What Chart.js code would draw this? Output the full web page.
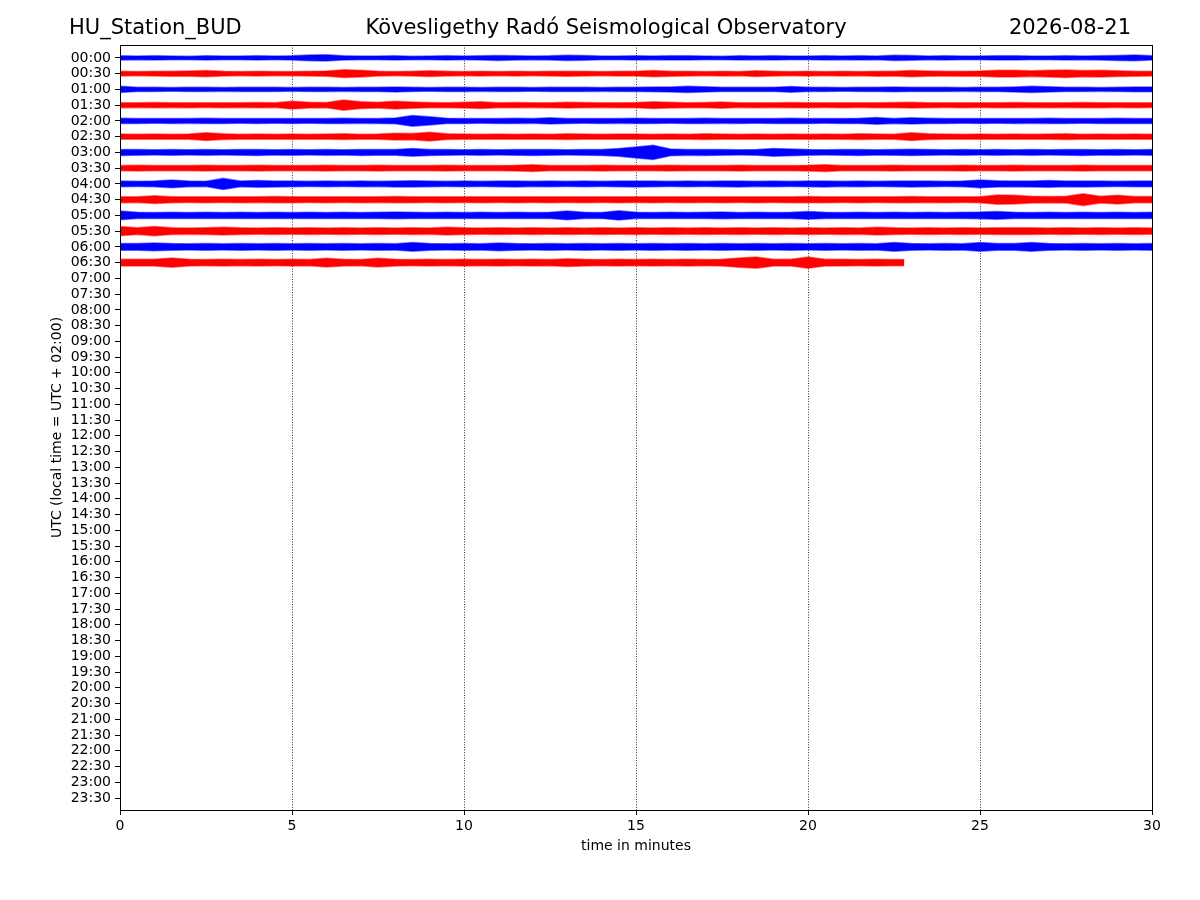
<!DOCTYPE html>
<html>
<head>
<meta charset="utf-8">
<script src="https://cdn.jsdelivr.net/npm/chart.js@4.4.1/dist/chart.umd.min.js"></script>
<style>
html,body{margin:0;padding:0;background:#ffffff;}
#wrap{width:1200px;height:900px;}
</style>
</head>
<body>
<div id="wrap"><canvas id="c" width="1200" height="900"></canvas></div>
<script>
// ---------- texts ----------
const stationName = "HU_Station_BUD";
const observatoryName = "Kövesligethy Radó Seismological Observatory";
const recordDate = "2026-08-21";
const yAxisLabel = "UTC (local time = UTC + 02:00)";
const xAxisLabel = "time in minutes";

// ---------- tick labels (one row per half hour) ----------
const timeLabels = ["00:00","00:30","01:00","01:30","02:00","02:30","03:00","03:30","04:00","04:30",
  "05:00","05:30","06:00","06:30","07:00","07:30","08:00","08:30","09:00","09:30",
  "10:00","10:30","11:00","11:30","12:00","12:30","13:00","13:30","14:00","14:30",
  "15:00","15:30","16:00","16:30","17:00","17:30","18:00","18:30","19:00","19:30",
  "20:00","20:30","21:00","21:30","22:00","22:30","23:00","23:30"];
const xTickValues = [0, 5, 10, 15, 20, 25, 30];

// ---------- sample times within each half-hour row (minutes) ----------
const sampleMinutes = [0,0.5,1,1.5,2,2.5,3,3.5,4,4.5,5,5.5,6,6.5,7,7.5,8,8.5,9,9.5,
  10,10.5,11,11.5,12,12.5,13,13.5,14,14.5,15,15.5,16,16.5,17,17.5,18,18.5,19,19.5,
  20,20.5,21,21.5,22,22.5,23,23.5,24,24.5,25,25.5,26,26.5,27,27.5,28,28.5,29,29.5,30];
const recordEndMinute = 22.8; // last row stops here

// ---------- trace envelope half-amplitudes (hundredths of a row spacing) ----------
const amp0000 = [13,12,14,12,11,13,12,12,13,12, 13,18,20,14,12,12,13,11,12,13, 12,13,16,14,12,13,17,15,12,12, 13,12,14,13,12,11,13,12,14,12, 12,13,12,14,12,17,15,12,13,12, 12,14,13,12,12,13,12,14,16,18, 13];
const amp0030 = [15,14,15,16,17,20,15,14,15,14, 14,15,17,25,22,15,14,15,18,15, 14,15,14,15,14,15,16,15,14,15, 15,20,16,15,14,15,14,18,15,14, 15,14,15,14,16,15,20,17,15,16, 17,22,21,18,22,24,20,22,18,16, 15];
const amp0100 = [20,14,13,12,13,14,12,13,14,13, 12,13,13,12,14,13,16,13,12,13, 13,12,14,13,12,13,14,13,12,14, 13,15,16,20,17,14,13,14,13,18, 14,13,12,13,14,15,13,14,13,12, 14,13,16,20,17,14,13,12,14,15, 15];
const amp0130 = [16,15,17,15,16,15,16,15,17,15, 25,18,17,32,22,18,25,20,17,16, 18,22,16,17,15,16,18,17,15,16, 17,22,18,16,17,20,15,16,15,17, 16,15,16,15,16,17,18,16,15,16, 15,16,17,15,16,15,17,16,15,16, 15];
const amp0200 = [17,16,15,16,15,17,16,15,16,15, 16,15,16,17,15,16,18,34,26,17, 16,15,16,17,15,20,16,15,16,15, 17,16,15,16,17,15,16,15,16,17, 16,15,16,17,22,16,20,17,16,15, 16,15,16,15,17,16,15,16,17,16, 16];
const amp0230 = [17,16,17,16,17,25,18,16,17,16, 17,16,17,18,16,17,22,20,28,18, 17,16,17,16,17,16,18,17,16,17, 17,16,17,16,18,17,16,17,16,17, 16,17,16,18,17,16,25,18,17,16, 17,16,17,16,17,18,16,17,16,17, 16];
const amp0300 = [19,18,17,18,17,18,17,18,19,17, 18,17,18,17,19,18,18,25,19,18, 17,18,17,18,19,18,17,18,19,25, 35,45,22,18,19,18,17,18,25,22, 18,17,18,19,17,18,20,18,17,18, 17,18,17,18,17,18,19,17,18,17, 18];
const amp0330 = [17,18,17,16,17,18,16,17,18,17, 16,17,18,17,16,18,17,16,17,18, 17,16,17,18,22,17,16,17,18,17, 16,17,18,17,16,17,18,17,16,17, 18,22,17,16,17,18,17,16,17,18, 16,17,18,17,16,17,18,17,16,17, 17];
const amp0400 = [18,17,18,25,18,17,35,18,22,19, 18,17,18,17,18,17,19,20,18,17, 18,17,18,19,17,18,17,18,17,18, 19,18,17,18,17,18,19,17,18,17, 18,19,17,18,17,18,19,18,17,18, 25,20,18,19,22,18,19,18,17,18, 18];
const amp0430 = [19,18,25,19,18,19,18,19,18,20, 19,18,19,18,19,18,20,19,18,19, 18,19,18,19,18,19,18,19,18,19, 18,19,18,19,18,19,18,19,18,19, 20,19,18,19,18,19,20,18,19,18, 19,30,28,22,20,21,38,22,28,20, 20];
const amp0500 = [28,20,19,20,19,20,19,20,19,20, 19,20,19,20,19,20,22,20,19,20, 19,20,19,20,19,20,28,20,19,30, 20,19,20,19,20,21,19,20,19,20, 25,20,19,20,19,20,19,20,19,20, 21,25,20,19,20,19,20,19,20,19, 20];
const amp0530 = [30,22,30,21,20,22,25,21,20,21, 20,21,20,21,20,21,20,21,20,25, 21,20,21,20,21,20,21,20,21,20, 21,20,21,20,21,20,21,20,21,20, 21,20,21,20,25,21,20,21,20,21, 20,21,22,21,20,21,20,21,20,21, 20];
const amp0600 = [21,22,25,21,20,21,20,21,20,21, 20,21,20,21,20,21,20,28,21,20, 21,20,25,21,20,21,20,21,20,21, 20,21,20,21,20,21,20,21,20,21, 20,21,20,21,20,28,21,20,21,20, 28,21,22,28,21,20,21,20,21,20, 21];
const amp0630 = [22,21,22,30,21,20,21,20,21,20, 21,20,28,21,20,28,21,20,21,20, 21,20,21,20,21,20,25,21,20,21, 20,21,20,21,20,21,30,35,22,21, 35,22,21,20,21,20, 20];

const traceAmps = [amp0000, amp0030, amp0100, amp0130, amp0200, amp0230, amp0300,
                   amp0330, amp0400, amp0430, amp0500, amp0530, amp0600, amp0630];

// ---------- build datasets ----------
const FILL = ['#0000ff', '#ff0000'];
const EDGE = ['rgba(0,0,255,0.5)', 'rgba(255,0,0,0.5)'];
const datasets = [];
traceAmps.forEach((amps, row) => {
  const k = row % 2;
  const times = amps.length === sampleMinutes.length
    ? sampleMinutes
    : sampleMinutes.slice(0, amps.length - 1).concat([recordEndMinute]);
  const upper = amps.map((a, i) => ({x: times[i], y: row - a / 100}));
  const lower = amps.map((a, i) => ({x: times[i], y: row + a / 100}));
  datasets.push({data: upper, borderColor: EDGE[k], backgroundColor: FILL[k],
    borderWidth: 1.5, pointRadius: 0, tension: 0, fill: false});
  datasets.push({data: lower, borderColor: EDGE[k], backgroundColor: FILL[k],
    borderWidth: 1.5, pointRadius: 0, tension: 0, fill: '-1'});
});

// ---------- decorations plugin ----------
const decor = {
  id: 'decor',
  beforeDatasetsDraw(chart) {
    const {ctx, chartArea: a, scales: {x}} = chart;
    ctx.save();
    ctx.strokeStyle = '#000000';
    ctx.lineWidth = 0.8;
    ctx.setLineDash([1, 1.6]);
    [5, 10, 15, 20, 25].forEach(v => {
      const px = Math.round(x.getPixelForValue(v)) + 0.5;
      ctx.beginPath(); ctx.moveTo(px, a.top); ctx.lineTo(px, a.bottom); ctx.stroke();
    });
    ctx.restore();
  },
  afterDraw(chart) {
    const {ctx, chartArea: a} = chart;
    ctx.save();
    ctx.strokeStyle = '#000000';
    ctx.lineWidth = 1;
    ctx.strokeRect(a.left + 0.5, a.top + 0.5, a.right - a.left, a.bottom - a.top);
    ctx.fillStyle = '#000000';
    ctx.textBaseline = 'middle';
    ctx.font = '21px "DejaVu Sans"';
    ctx.textAlign = 'left';
    ctx.fillText(stationName, 69, 29);
    ctx.textAlign = 'center';
    ctx.fillText(observatoryName, 606, 29);
    ctx.textAlign = 'right';
    ctx.fillText(recordDate, 1131, 29);
    ctx.font = '14px "DejaVu Sans"';
    ctx.textAlign = 'center';
    ctx.fillText(xAxisLabel, (a.left + a.right) / 2, 846);
    ctx.translate(57, (a.top + a.bottom) / 2);
    ctx.rotate(-Math.PI / 2);
    ctx.fillText(yAxisLabel, 0, 0);
    ctx.restore();
  }
};

new Chart(document.getElementById('c'), {
  type: 'line',
  data: {datasets},
  options: {
    responsive: false,
    animation: false,
    devicePixelRatio: 1,
    layout: {padding: {left: 0, top: 45, right: 48, bottom: 0}},
    plugins: {legend: {display: false}, tooltip: {enabled: false}, title: {display: false}},
    scales: {
      x: {
        type: 'linear', min: 0, max: 30,
        afterFit(s) { s.height = 90; },
        afterBuildTicks(s) { s.ticks = xTickValues.map(v => ({value: v})); },
        ticks: {color: '#000', font: {family: '"DejaVu Sans"', size: 14}, padding: 3, maxRotation: 0, autoSkip: false},
        grid: {drawOnChartArea: false, drawTicks: true, tickLength: 5, color: '#000'},
        border: {display: true, color: '#000', width: 1}
      },
      y: {
        type: 'linear', reverse: true, min: -0.82, max: 47.76,
        afterFit(s) { s.width = 120; },
        afterBuildTicks(s) { s.ticks = timeLabels.map((_, i) => ({value: i})); },
        ticks: {color: '#000', font: {family: '"DejaVu Sans"', size: 14}, padding: 4, autoSkip: false,
          callback: (v) => timeLabels[v]},
        grid: {drawOnChartArea: false, drawTicks: true, tickLength: 5, color: '#000'},
        border: {display: true, color: '#000', width: 1}
      }
    }
  },
  plugins: [decor]
});
</script>
</body>
</html>
